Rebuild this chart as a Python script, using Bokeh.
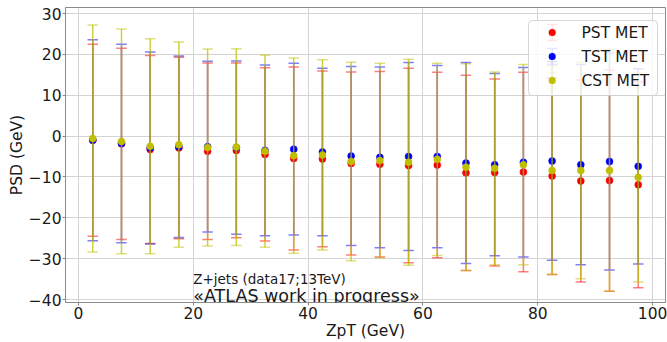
from bokeh.plotting import figure
from bokeh.models import (ColumnDataSource, Range1d, FixedTicker, Label,
                          BoxAnnotation, Whisker, TeeHead)
from bokeh.embed import file_html
from bokeh.resources import INLINE

# ---------------- data ----------------
zpt = [2.5, 7.5, 12.5, 17.5, 22.5, 27.5, 32.5, 37.5, 42.5, 47.5,
       52.5, 57.5, 62.5, 67.5, 72.5, 77.5, 82.5, 87.5, 92.5, 97.5]

pst_mean = [-1.0, -1.9, -3.3, -2.9, -3.7, -3.5, -4.5, -5.5, -5.6, -6.7,
            -6.9, -7.2, -7.1, -9.0, -8.9, -8.8, -9.8, -11.0, -10.9, -11.9]
pst_err = [23.5, 23.4, 23.0, 22.2, 21.6, 21.4, 21.2, 22.4, 21.5, 22.4,
           22.7, 23.8, 22.7, 23.9, 22.9, 24.4, 24.1, 24.7, 27.1, 25.2]

tst_mean = [-1.0, -1.8, -2.9, -2.6, -2.6, -2.8, -3.5, -3.2, -3.9, -4.9,
            -5.2, -5.0, -5.0, -6.6, -7.0, -6.4, -6.1, -7.0, -6.2, -7.4]
tst_err = [24.6, 24.3, 23.5, 22.2, 20.9, 21.2, 20.9, 21.0, 20.5, 21.9,
           22.1, 23.0, 22.3, 24.6, 22.3, 23.2, 24.3, 24.5, 26.6, 23.9]

cst_mean = [-0.6, -1.3, -2.5, -2.1, -2.8, -2.7, -3.7, -4.8, -4.6, -6.2,
            -6.0, -6.4, -5.7, -7.6, -7.9, -7.0, -8.4, -8.4, -8.4, -10.1]
cst_err = [27.8, 27.5, 26.3, 25.1, 24.1, 24.1, 23.5, 23.9, 23.3, 24.3,
           23.8, 25.2, 23.5, 25.3, 23.6, 24.5, 25.5, 26.5, 29.6, 25.6]

series_names = ["PST MET", "TST MET", "CST MET"]
series_colors = ["#ff0000", "#0000ff", "#bfbf00"]
series_bar_alpha = [0.5, 0.5, 0.75]
x_ticks = [0, 20, 40, 60, 80, 100]
y_ticks = [-40, -30, -20, -10, 0, 10, 20, 30]
x_label = "ZpT (GeV)"
y_label = "PSD (GeV)"
info_line = "Z+jets (data17;13TeV)"
atlas_line = "\u00abATLAS work in progress\u00bb"

FONT = "DejaVu Sans"

# ---------------- figure ----------------
FRAME_H = 295
p = figure(width=667, height=342,
           x_range=Range1d(-2.25, 102.25), y_range=Range1d(-40.73, 31.47),
           output_backend="svg", toolbar_location=None,
           min_border_left=65, min_border_right=2,
           min_border_top=7, min_border_bottom=40,
           background_fill_color="white", border_fill_color="white")

p.outline_line_color = "#8a8a8a"
p.outline_line_width = 1

for axis, ticks in ((p.xaxis, x_ticks), (p.yaxis, y_ticks)):
    axis.ticker = FixedTicker(ticks=ticks)
    axis.axis_line_color = "#8a8a8a"
    axis.major_tick_line_color = "#8a8a8a"
    axis.minor_tick_line_color = None
    axis.major_tick_in = 0
    axis.major_tick_out = 3
    axis.major_label_text_font = FONT
    axis.major_label_text_font_size = "15.5px"
    axis.major_label_text_color = "#1a1a1a"
    axis.major_label_overrides = {t: (str(t).replace("-", "\u2212")) for t in ticks}
    axis.axis_label_text_font = FONT
    axis.axis_label_text_font_size = "15.5px"
    axis.axis_label_text_font_style = "normal"
    axis.axis_label_text_color = "#1a1a1a"
    axis.axis_label_standoff = 0

p.xaxis.major_label_standoff = 1
p.yaxis.major_label_standoff = 1
p.xaxis.axis_label = x_label
p.yaxis.axis_label = y_label

p.xgrid.ticker = FixedTicker(ticks=x_ticks)
p.ygrid.ticker = FixedTicker(ticks=y_ticks)
p.grid.grid_line_color = "#d4d4d4"
p.grid.grid_line_width = 1

# ---------------- error bars + points ----------------
series = [(pst_mean, pst_err), (tst_mean, tst_err), (cst_mean, cst_err)]
for (mean, err), color, bar_alpha in zip(series, series_colors, series_bar_alpha):
    lo = [m - e for m, e in zip(mean, err)]
    hi = [m + e for m, e in zip(mean, err)]
    src = ColumnDataSource(dict(x=zpt, y=mean, lo=lo, hi=hi))
    p.segment(x0="x", y0="lo", x1="x", y1="hi", source=src,
              line_color=color, line_alpha=bar_alpha, line_width=1.5)
    p.scatter(x="x", y="hi", source=src, marker="dash", size=10.5,
              line_color=color, line_alpha=0.5, line_width=1.5)
    p.scatter(x="x", y="lo", source=src, marker="dash", size=10.5,
              line_color=color, line_alpha=0.5, line_width=1.5)
    p.scatter(x="x", y="y", source=src, marker="circle", size=7,
              fill_color=color, line_color=color, line_width=0.5)

# ---------------- text annotations ----------------
p.add_layout(Label(x=20, y=-34.9, text=info_line, text_font=FONT,
                   text_font_size="13.5px", text_color="#1a1a1a",
                   text_baseline="alphabetic"))
p.add_layout(Label(x=20, y=-39.1, text=atlas_line, text_font=FONT,
                   text_font_size="17.5px", text_color="#1a1a1a",
                   text_baseline="alphabetic"))

# ---------------- legend (frame-relative screen units) ----------------
p.add_layout(BoxAnnotation(left=463, right=592, top=FRAME_H - 13, bottom=FRAME_H - 88,
                           left_units="screen", right_units="screen",
                           top_units="screen", bottom_units="screen",
                           fill_color="white", fill_alpha=0.8,
                           line_color="#cccccc", line_alpha=0.8, line_width=1,
                           border_radius=4))
row_y = [FRAME_H - 25, FRAME_H - 49, FRAME_H - 73]
hx = 486.7
for name, color, ry in zip(series_names, series_colors, row_y):
    wsrc = ColumnDataSource(dict(base=[hx], lower=[ry - 8], upper=[ry + 8]))
    p.add_layout(Whisker(source=wsrc, base="base", lower="lower", upper="upper",
                         dimension="height", base_units="screen",
                         lower_units="screen", upper_units="screen",
                         line_color=color, line_alpha=0.5, line_width=1.5,
                         upper_head=TeeHead(size=10.5, line_color=color,
                                            line_alpha=0.5, line_width=1.5),
                         lower_head=TeeHead(size=10.5, line_color=color,
                                            line_alpha=0.5, line_width=1.5)))
    p.add_layout(BoxAnnotation(left=hx - 3.5, right=hx + 3.5, bottom=ry - 3.5, top=ry + 3.5,
                               left_units="screen", right_units="screen",
                               top_units="screen", bottom_units="screen",
                               fill_color=color, fill_alpha=1, line_color=color,
                               line_width=0.5, border_radius=4))
    p.add_layout(Label(x=516, y=ry, x_units="screen", y_units="screen", text=name,
                       text_font=FONT, text_font_size="15.5px", text_color="#1a1a1a",
                       text_baseline="middle"))

open("out.html", "w").write(file_html(p, INLINE))
